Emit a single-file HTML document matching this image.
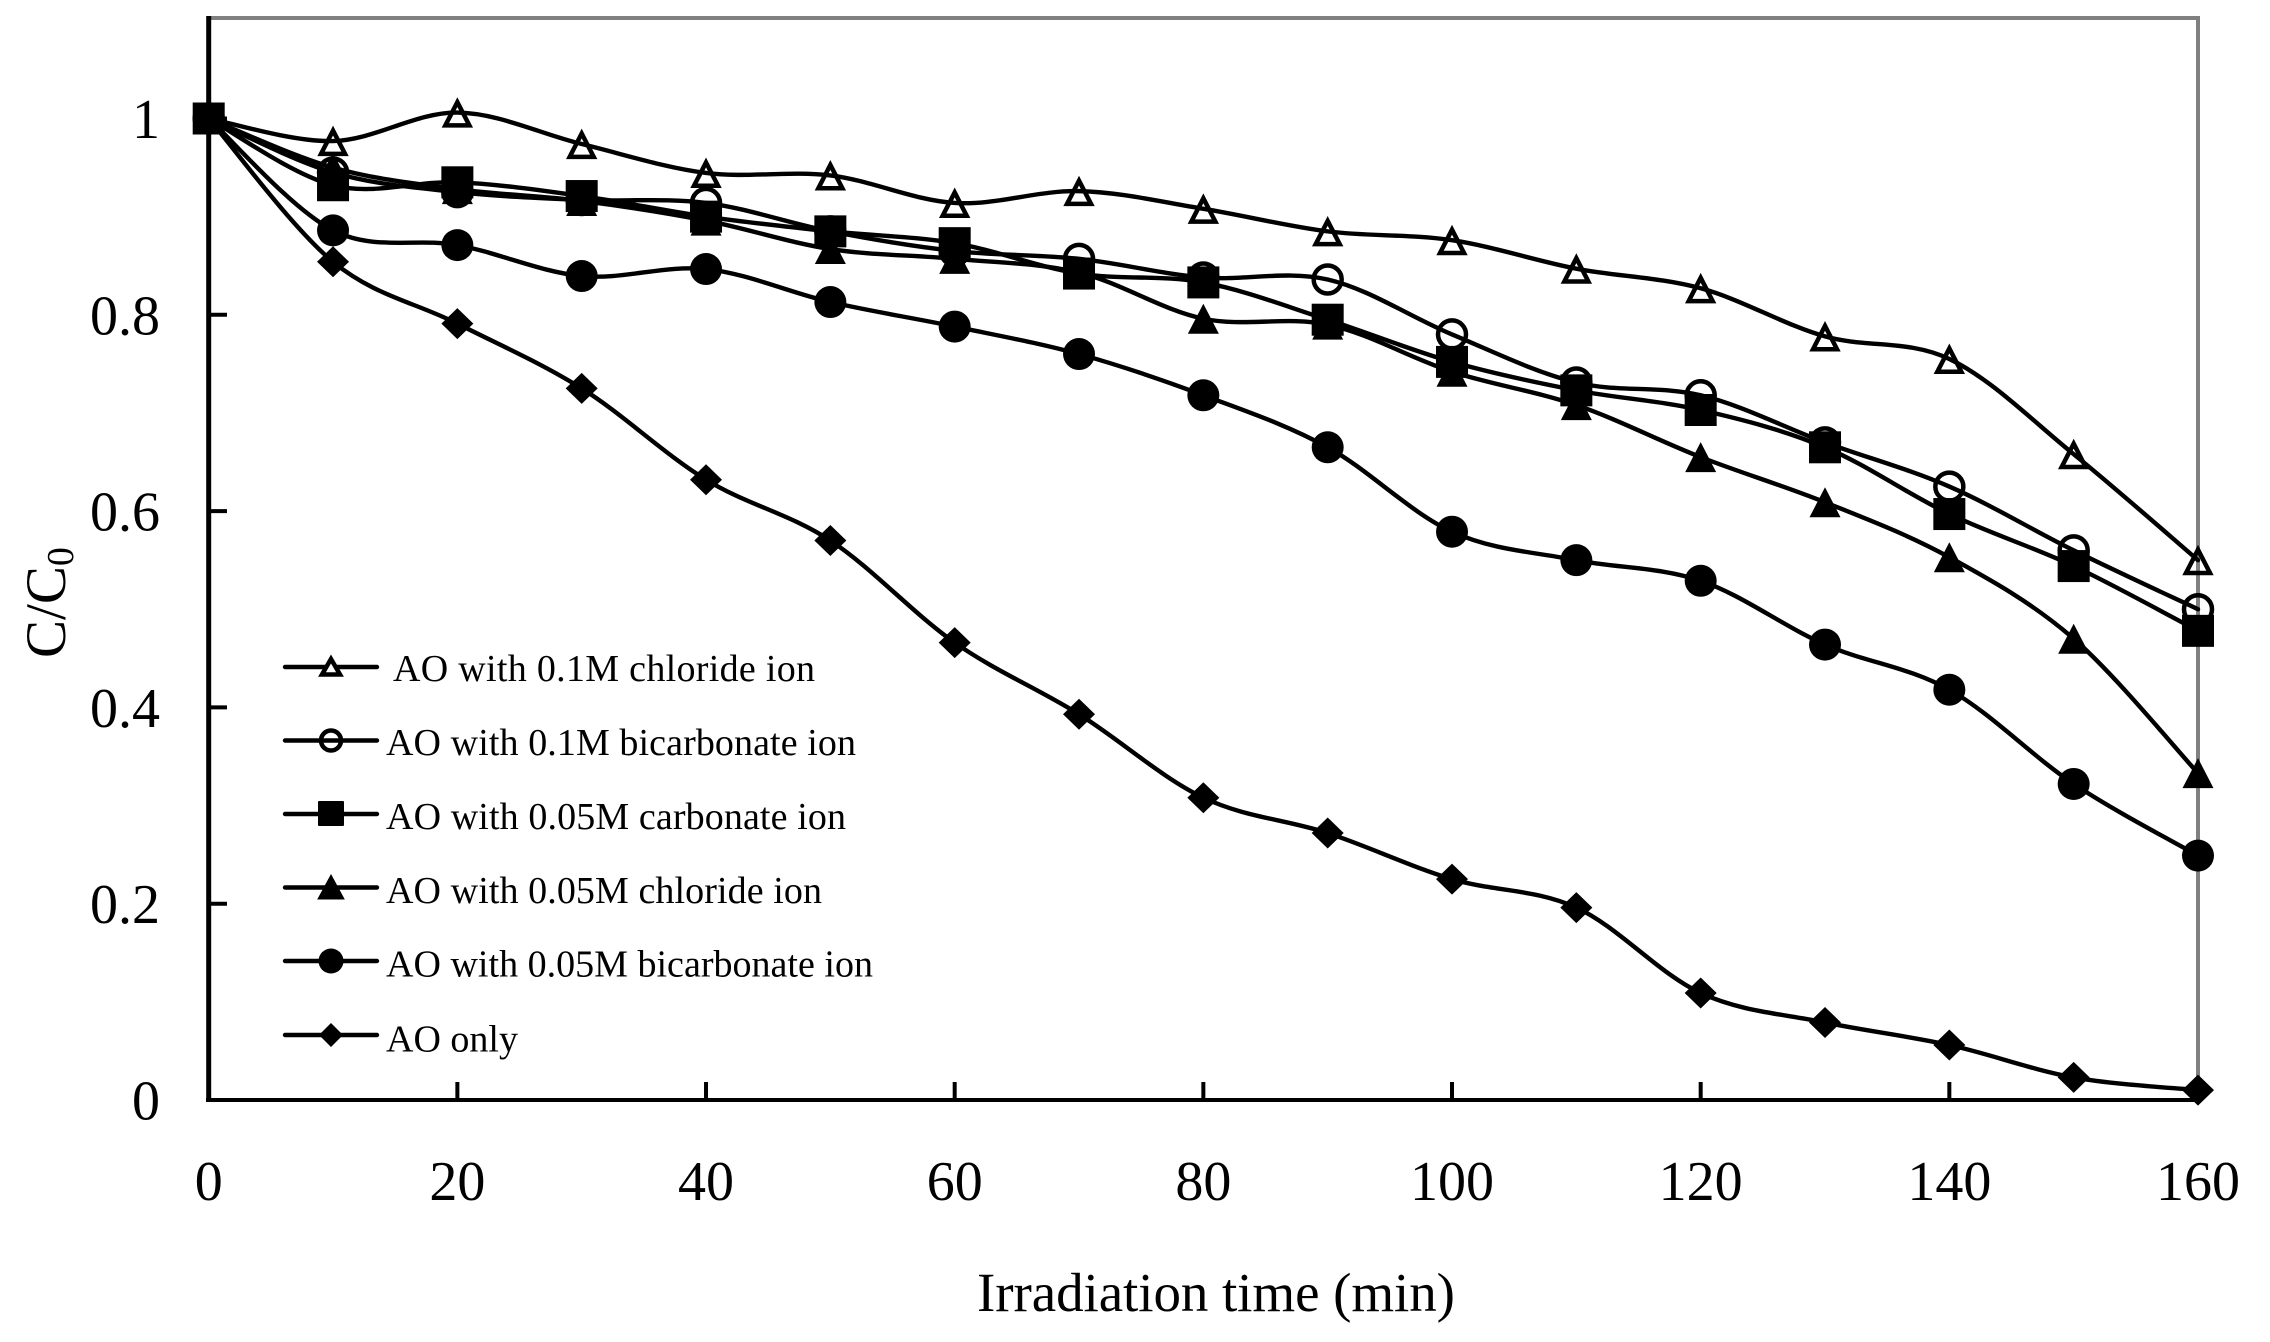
<!DOCTYPE html>
<html lang="en">
<head>
<meta charset="utf-8">
<title>C/C0 vs Irradiation time</title>
<style>
html,body{margin:0;padding:0;background:#fff;}
svg{display:block;}
text{font-family:"Liberation Serif",serif;fill:#000;}
</style>
</head>
<body>
<svg id="chart" xmlns="http://www.w3.org/2000/svg" width="2270" height="1342" viewBox="0 0 2270 1342">
  <rect x="0" y="0" width="2270" height="1342" fill="#ffffff"/>
  <line x1="207" y1="18" x2="2200" y2="18" stroke="#808080" stroke-width="4"/>
  <line x1="2198" y1="16" x2="2198" y2="1100" stroke="#808080" stroke-width="4"/>
  <line x1="206" y1="1100" x2="2198" y2="1100" stroke="#000" stroke-width="4"/>
  <line x1="208.7" y1="16" x2="208.7" y2="1102" stroke="#000" stroke-width="5"/>
  <g id="ticks"></g>
  <g id="series"></g>

  <text x="1216" y="1311" font-size="55" text-anchor="middle" textLength="478" lengthAdjust="spacing">Irradiation time (min)</text>
  <text transform="translate(65,658) rotate(-90)" font-size="57">C/C<tspan font-size="38" dy="8">0</tspan></text>

  <g>
    <g>
      <line x1="285" y1="667" x2="377" y2="667" stroke="#000" stroke-width="4.4" stroke-linecap="round"/>
      <polygon points="331,659 340,674.5 322,674.5" fill="#fff" stroke="#000" stroke-width="4.5"/>
      <text x="393" y="681" font-size="38" textLength="422" lengthAdjust="spacing">AO with 0.1M chloride ion</text>
    </g>
    <g>
      <line x1="285" y1="740.5" x2="377" y2="740.5" stroke="#000" stroke-width="4.4" stroke-linecap="round"/>
      <circle cx="331" cy="740.5" r="10" fill="none" stroke="#000" stroke-width="4.5"/>
      <text x="386" y="755" font-size="38" textLength="470" lengthAdjust="spacing">AO with 0.1M bicarbonate ion</text>
    </g>
    <g>
      <line x1="285" y1="814" x2="377" y2="814" stroke="#000" stroke-width="4.4" stroke-linecap="round"/>
      <rect x="318" y="801" width="26" height="25" rx="1" fill="#000"/>
      <text x="386" y="829" font-size="38" textLength="460" lengthAdjust="spacing">AO with 0.05M carbonate ion</text>
    </g>
    <g>
      <line x1="285" y1="887.5" x2="377" y2="887.5" stroke="#000" stroke-width="4.4" stroke-linecap="round"/>
      <polygon points="331,875 344,899 318,899" fill="#000" stroke="#000" stroke-width="1"/>
      <text x="386" y="903" font-size="38" textLength="436" lengthAdjust="spacing">AO with 0.05M chloride ion</text>
    </g>
    <g>
      <line x1="285" y1="961" x2="377" y2="961" stroke="#000" stroke-width="4.4" stroke-linecap="round"/>
      <circle cx="331" cy="961" r="12.5" fill="#000"/>
      <text x="386" y="976.5" font-size="38" textLength="487" lengthAdjust="spacing">AO with 0.05M bicarbonate ion</text>
    </g>
    <g>
      <line x1="285" y1="1035" x2="377" y2="1035" stroke="#000" stroke-width="4.4" stroke-linecap="round"/>
      <polygon points="331,1023 343,1035 331,1047 319,1035" fill="#000"/>
      <text x="386" y="1051.5" font-size="38" textLength="132" lengthAdjust="spacing">AO only</text>
    </g>
  </g>
</svg>
<script>
const times = [0,10,20,30,40,50,60,70,80,90,100,110,120,130,140,150,160];
const xTickLabels = [0,20,40,60,80,100,120,140,160];
const yTickLabels = [0,0.2,0.4,0.6,0.8,1];
const chloride01 = [1,0.977,1.006,0.974,0.9445,0.942,0.914,0.926,0.908,0.885,0.876,0.847,0.827,0.778,0.755,0.658,0.55];
const bicarbonate01 = [1,0.945,0.925,0.917,0.914,0.885,0.865,0.857,0.838,0.836,0.78,0.731,0.718,0.67,0.625,0.56,0.5];
const carbonate005 = [1,0.932,0.935,0.921,0.9,0.885,0.873,0.842,0.833,0.795,0.752,0.723,0.703,0.665,0.597,0.544,0.478];
const chloride005 = [1,0.95,0.928,0.916,0.896,0.867,0.857,0.843,0.796,0.79,0.742,0.708,0.655,0.609,0.553,0.47,0.333];
const bicarbonate005 = [1,0.886,0.871,0.8395,0.8466,0.813,0.788,0.76,0.718,0.665,0.579,0.55,0.529,0.464,0.418,0.322,0.249];
const aoOnly = [1,0.854,0.791,0.725,0.632,0.57,0.466,0.393,0.308,0.272,0.225,0.196,0.109,0.079,0.056,0.023,0.01];

const seriesValues = [chloride01, bicarbonate01, carbonate005, chloride005, bicarbonate005, aoOnly];
const seriesKeys = ['chloride-0-1m','bicarbonate-0-1m','carbonate-0-05m','chloride-0-05m','bicarbonate-0-05m','ao-only'];
const markerKinds = ['open-triangle','open-circle','square','filled-triangle','filled-circle','diamond'];

const NS = 'http://www.w3.org/2000/svg';
function xs(t){ return 208.7 + t * (2198 - 208.7) / 160; }
function ys(v){ return 1100 - v * 981.5; }
function svgEl(tag, attrs){
  const el = document.createElementNS(NS, tag);
  for (const k in attrs) el.setAttribute(k, attrs[k]);
  return el;
}
const tickLayer = document.getElementById('ticks');
xTickLabels.forEach(function(t){
  const tick = svgEl('line', {x1:xs(t), x2:xs(t), y1:1100, y2:1082, stroke:'#000', 'stroke-width':4});
  
  
  tickLayer.appendChild(tick);
  const label = svgEl('text', {x:xs(t), y:1200, 'font-size':56, 'text-anchor':'middle'});
  
  
  label.textContent = String(t);
  tickLayer.appendChild(label);
});
yTickLabels.forEach(function(v){
  const tick = svgEl('line', {x1:208.7, x2:227, y1:ys(v), y2:ys(v), stroke:'#000', 'stroke-width':4});
  
  
  tickLayer.appendChild(tick);
  const label = svgEl('text', {x:160, y:ys(v) + 19.5, 'font-size':56, 'text-anchor':'end'});
  
  
  label.textContent = String(v);
  tickLayer.appendChild(label);
});

function smoothPath(pts){
  let d = 'M' + pts[0][0] + ' ' + pts[0][1];
  for (let i = 0; i < pts.length - 1; i++){
    const p0 = pts[Math.max(i - 1, 0)];
    const p1 = pts[i];
    const p2 = pts[i + 1];
    const p3 = pts[Math.min(i + 2, pts.length - 1)];
    const c1x = p1[0] + (p2[0] - p0[0]) / 6;
    const c1y = p1[1] + (p2[1] - p0[1]) / 6;
    const c2x = p2[0] - (p3[0] - p1[0]) / 6;
    const c2y = p2[1] - (p3[1] - p1[1]) / 6;
    d += ' C' + c1x + ' ' + c1y + ' ' + c2x + ' ' + c2y + ' ' + p2[0] + ' ' + p2[1];
  }
  return d;
}
function markerEl(kind, x, y){
  if (kind === 'open-triangle'){
    return svgEl('polygon', {points:(x)+','+(y-10.5)+' '+(x+12)+','+(y+12.8)+' '+(x-12)+','+(y+12.8), fill:'none', stroke:'#000', 'stroke-width':4.5});
  }
  if (kind === 'filled-triangle'){
    return svgEl('polygon', {points:(x)+','+(y-15)+' '+(x+15.5)+','+(y+15)+' '+(x-15.5)+','+(y+15), fill:'#000'});
  }
  if (kind === 'open-circle'){
    return svgEl('circle', {cx:x, cy:y, r:14, fill:'none', stroke:'#000', 'stroke-width':4.5});
  }
  if (kind === 'filled-circle'){
    return svgEl('circle', {cx:x, cy:y, r:16, fill:'#000'});
  }
  if (kind === 'square'){
    return svgEl('rect', {x:x-16, y:y-16, width:32, height:32, fill:'#000'});
  }
  return svgEl('polygon', {points:(x)+','+(y-15.5)+' '+(x+16)+','+(y)+' '+(x)+','+(y+15.5)+' '+(x-16)+','+(y), fill:'#000'});
}
const seriesLayer = document.getElementById('series');
seriesValues.forEach(function(values, si){
  const group = svgEl('g', {});
  
  
  const pts = values.map(function(v, i){ return [xs(times[i]), ys(v)]; });
  const path = svgEl('path', {d:smoothPath(pts), fill:'none', stroke:'#000', 'stroke-width':4.4, 'stroke-linejoin':'round', 'stroke-linecap':'round'});
  
  
  group.appendChild(path);
  pts.forEach(function(p){
    const m = markerEl(markerKinds[si], p[0], p[1]);
    
    
    group.appendChild(m);
  });
  seriesLayer.appendChild(group);
});
</script>
</body>
</html>
